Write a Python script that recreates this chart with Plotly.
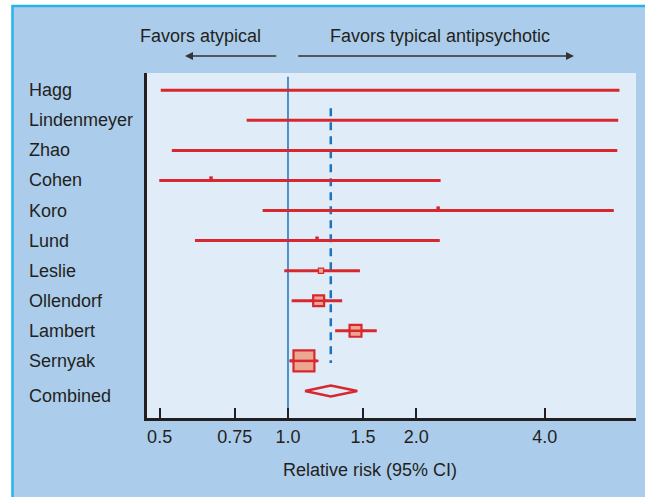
import plotly.graph_objects as go
import math

# ---------------- data ----------------
studies = ["Hagg", "Lindenmeyer", "Zhao", "Cohen", "Koro", "Lund",
           "Leslie", "Ollendorf", "Lambert", "Sernyak"]
rr_est = [None, None, None, 0.66, 2.25, 1.17, 1.195, 1.18, 1.44, 1.09]
rr_low = [0.503, 0.80, 0.534, 0.499, 0.872, 0.605, 0.98, 1.02, 1.29, 1.01]
rr_high = [5.99, 5.95, 5.92, 2.28, 5.81, 2.27, 1.475, 1.34, 1.615, 1.168]
weights = [None, None, None, 0.4, 0.4, 0.4, 2.5, 11, 13, 40]

combined_label = "Combined"
combined_est = 1.26
combined_low = 1.096
combined_high = 1.454

null_value = 1.0
tick_vals = [0.5, 0.75, 1.0, 1.5, 2.0, 4.0]
tick_text = ["0.5", "0.75", "1.0", "1.5", "2.0", "4.0"]

x_title = "Relative risk (95% CI)"
left_header = "Favors atypical"
right_header = "Favors typical antipsychotic"

# ---------------- styles ----------------
RED = "#d7282f"
SALMON = "#eca792"
PANEL = "#abcdeb"
PLOTBG = "#e0ecf8"
BORDER = "#2ab2e8"
INK = "#231f20"
BLUE = "#1b74bd"
FONT = "Liberation Sans, Arial, sans-serif"

W, H = 645, 497
ML, MR, MT, MB = 147, 9, 73, 79
PW, PH = W - ML - MR, H - MT - MB


def px2paper_x(px):
    return (px - ML) / PW


def px2paper_y(py):
    return (H - MB - py) / PH


fig = go.Figure()

rows = list(range(len(studies)))
comb_row = len(studies)

# reference line at null value
fig.add_trace(go.Scatter(x=[null_value, null_value], y=[-0.45, comb_row + 0.95],
                         mode="lines", line=dict(color=BLUE, width=1.5),
                         hoverinfo="skip", showlegend=False))
# dashed line at combined estimate
fig.add_trace(go.Scatter(x=[combined_est, combined_est], y=[0.6, rows[-1] + 0.07],
                         mode="lines", line=dict(color=BLUE, width=2.5, dash="8px,6px"),
                         hoverinfo="skip", showlegend=False))

# CI lines
for r, lo, hi in zip(rows, rr_low, rr_high):
    fig.add_trace(go.Scatter(x=[lo, hi], y=[r, r], mode="lines",
                             line=dict(color=RED, width=3),
                             hoverinfo="skip", showlegend=False))

# point estimate squares
for r, est, w in zip(rows, rr_est, weights):
    if est is None:
        continue
    size = 3.3 * math.sqrt(w)
    if size < 3:
        fig.add_trace(go.Scatter(x=[est], y=[r - 0.08], mode="markers",
                                 marker=dict(symbol="square", size=3.5, color=RED,
                                             line=dict(width=0)),
                                 hoverinfo="skip", showlegend=False))
    elif size < 8:
        fig.add_trace(go.Scatter(x=[est], y=[r], mode="markers",
                                 marker=dict(symbol="square", size=size, color=SALMON,
                                             line=dict(color=RED, width=1.2)),
                                 hoverinfo="skip", showlegend=False))
    else:
        fig.add_trace(go.Scatter(x=[est], y=[r], mode="markers",
                                 marker=dict(symbol="square", size=size, color=SALMON,
                                             line=dict(color=RED, width=2.2)),
                                 hoverinfo="skip", showlegend=False))
        # line through the square
        fig.add_trace(go.Scatter(x=[est], y=[r], mode="markers",
                                 marker=dict(symbol="line-ew", size=size,
                                             line=dict(color=RED, width=2.5)),
                                 hoverinfo="skip", showlegend=False))

# combined diamond
h = 0.18
fig.add_trace(go.Scatter(
    x=[combined_low, combined_est, combined_high, combined_est, combined_low],
    y=[comb_row, comb_row - h, comb_row, comb_row + h, comb_row],
    mode="lines", fill="toself", fillcolor=PLOTBG,
    line=dict(color=RED, width=2.5), hoverinfo="skip", showlegend=False))

# ---------------- layout ----------------
shapes = [
    dict(type="rect", xref="paper", yref="paper",
         x0=px2paper_x(12.5), x1=px2paper_x(W + 10),
         y0=px2paper_y(H + 10), y1=px2paper_y(6),
         fillcolor=PANEL, line=dict(color=BORDER, width=2.5), layer="below"),
    dict(type="rect", xref="paper", yref="paper", x0=0, x1=1, y0=0, y1=1,
         fillcolor=PLOTBG, line=dict(width=0), layer="below"),
]

annotations = []
labels = studies + [combined_label]
for i, name in enumerate(labels):
    annotations.append(dict(
        x=0, xref="paper", y=i, yref="y", text=name, showarrow=False,
        xanchor="left", yanchor="middle", xshift=-(ML - 27), yshift=(-5 if i == comb_row else 0),
        font=dict(family=FONT, size=18, color=INK)))

annotations += [
    dict(x=px2paper_x(200.5), y=px2paper_y(36), xref="paper", yref="paper",
         text=left_header, showarrow=False, xanchor="center", yanchor="middle",
         font=dict(family=FONT, size=18, color=INK)),
    dict(x=px2paper_x(440), y=px2paper_y(36), xref="paper", yref="paper",
         text=right_header, showarrow=False, xanchor="center", yanchor="middle",
         font=dict(family=FONT, size=18, color=INK)),
    dict(x=px2paper_x(185), y=px2paper_y(56), xref="paper", yref="paper",
         ax=277.7 - 185, ay=0, axref="pixel", ayref="pixel",
         text="", showarrow=True, arrowhead=2, arrowsize=1, arrowwidth=1.6,
         arrowcolor="#333333"),
    dict(x=px2paper_x(574), y=px2paper_y(56), xref="paper", yref="paper",
         ax=296.7 - 574, ay=0, axref="pixel", ayref="pixel",
         text="", showarrow=True, arrowhead=2, arrowsize=1, arrowwidth=1.6,
         arrowcolor="#333333"),
    dict(x=px2paper_x(369.5), y=px2paper_y(470), xref="paper", yref="paper",
         text=x_title, showarrow=False, xanchor="center", yanchor="middle",
         font=dict(family=FONT, size=18, color=INK)),
]

fig.update_layout(
    width=W, height=H, autosize=False,
    margin=dict(l=ML, r=MR, t=MT, b=MB, pad=0),
    paper_bgcolor="white", plot_bgcolor="rgba(0,0,0,0)",
    shapes=shapes, annotations=annotations, showlegend=False,
    xaxis=dict(type="log", range=[math.log10(0.467), math.log10(6.55)],
               tickvals=tick_vals, ticktext=tick_text,
               ticks="inside", ticklen=10, tickwidth=2, tickcolor=INK,
               showline=True, linecolor=INK, linewidth=3,
               showgrid=False, zeroline=False,
               tickfont=dict(family=FONT, size=18, color=INK)),
    yaxis=dict(range=[comb_row + 0.9, -0.575], showline=True, linecolor=INK,
               linewidth=3, showticklabels=False, ticks="", showgrid=False,
               zeroline=False),
)

fig.write_html("out.html",
               config={"displayModeBar": False},
               post_script="document.body.style.margin='0px';"
                           "document.body.style.overflow='hidden';")
